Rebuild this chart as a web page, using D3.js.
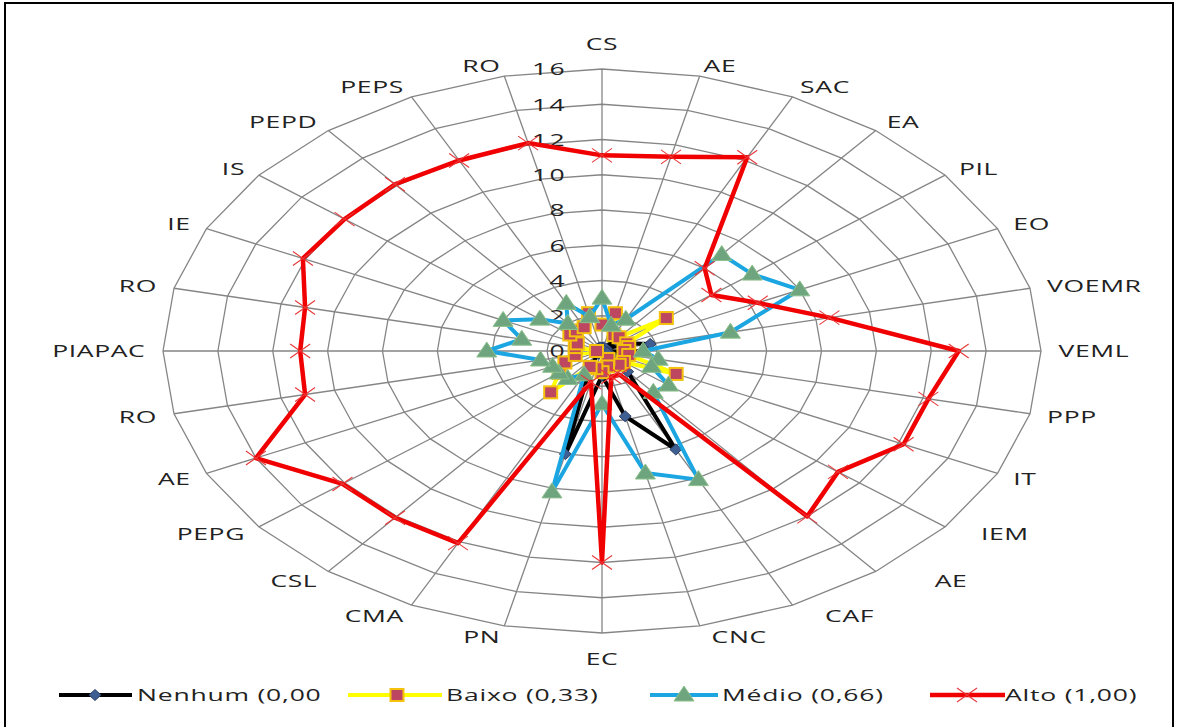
<!DOCTYPE html>
<html>
<head>
<meta charset="utf-8">
<script src="https://cdn.jsdelivr.net/npm/d3@7"></script>
<style>
  html, body { margin: 0; padding: 0; background: #fff; }
  svg { display: block; }
  text { font-family: "Open Sans", "Noto Sans", sans-serif; fill: #222; }
</style>
</head>
<body>
<svg id="chart" width="1185" height="727"></svg>
<script>
// Axis categories, clockwise from the top
const categories = ["CS","AE","SAC","EA","PIL","EO","VOEMR","VEML","PPP","IT","IEM","AE","CAF","CNC","EC","PN","CMA","CSL","PEPG","AE","RO","PIAPAC","RO","IE","IS","PEPD","PEPS","RO"];

// Radial tick labels
const tickValues = [0, 2, 4, 6, 8, 10, 12, 14, 16];

// Series values, one per category
const nenhum = [0.2, 0.2, 0.2, 0.8, 0.2, 1.0, 1.8, 1.5, 0.2, 0.2, 0.5, 1.5, 6.2, 3.8, 1.4, 6.0, 1.0, 0.2, 0.2, 0.2, 0.2, 0.2, 0.2, 0.2, 0.2, 0.2, 0.2, 0.2];
const baixo  = [1.5, 2.2, 1.0, 1.0, 3.0, 1.0, 1.0, 0.8, 1.0, 3.0, 1.0, 1.0, 0.5, 0.9, 1.2, 1.0, 1.0, 3.0, 2.0, 1.5, 1.0, 0.2, 1.0, 1.0, 1.5, 1.5, 1.5, 2.2];
const medio  = [3.0, 1.5, 2.0, 7.0, 7.0, 8.0, 4.8, 1.5, 2.1, 2.0, 3.1, 3.0, 8.1, 7.1, 3.0, 8.2, 1.5, 2.0, 2.0, 2.0, 2.3, 4.2, 3.0, 4.0, 2.9, 2.0, 3.0, 2.0];
const alto   = [11.1, 11.3, 12.2, 6.0, 5.1, 6.3, 8.5, 13.0, 12.2, 12.2, 11.0, 12.0, 1.5, 1.5, 12.0, 1.8, 12.1, 12.1, 12.1, 14.0, 11.1, 11.0, 11.1, 12.1, 12.0, 12.1, 12.0, 12.1];

const seriesNames = ["Nenhum (0,00", "Baixo (0,33)", "Médio (0,66)", "Alto (1,00)"];

const svg = d3.select("#chart");
const W = 1185, H = 727;

// The plot is stretched horizontally, so text is widened the same way
const stretch = 1.56;
const cx = 602, cy = 351, Rx = 439, Ry = 282;

const rScale = d3.scaleLinear().domain([0, 16]).range([0, 1]);
const aScale = d3.scaleLinear().domain([0, categories.length]).range([0, 2 * Math.PI]);

function pos(i, v) {
  const a = aScale(i), k = rScale(v);
  return [cx + Rx * k * Math.sin(a), cy - Ry * k * Math.cos(a)];
}

svg.append("rect").attr("width", W).attr("height", H).attr("fill", "#fff");
svg.append("rect").attr("x", 5).attr("y", 3).attr("width", 1168).attr("height", 760)
  .attr("fill", "none").attr("stroke", "#000").attr("stroke-width", 2);

const grid = svg.append("g");
const gridColor = "#858585";

// Polygonal rings
tickValues.filter(t => t > 0).forEach(t => {
  const pts = categories.map((c, i) => pos(i, t));
  grid.append("path")
    .attr("d", d3.line().curve(d3.curveLinearClosed)(pts))
    .attr("fill", "none").attr("stroke", gridColor).attr("stroke-width", 1.3);
});

// Spokes
categories.forEach((c, i) => {
  const [x, y] = pos(i, 16);
  grid.append("line").attr("x1", cx).attr("y1", cy).attr("x2", x).attr("y2", y)
    .attr("stroke", gridColor).attr("stroke-width", 1.3);
});

// Radial tick labels
tickValues.forEach(t => {
  const y = cy - Ry * rScale(t);
  svg.append("text")
    .attr("transform", `translate(${cx - 35},${y}) scale(${stretch},1)`)
    .attr("text-anchor", "end").attr("dominant-baseline", "central")
    .attr("font-size", 17).attr("letter-spacing", 1.5)
    .text(t);
});

// Category labels around the rim: side labels start/end just outside the
// rim, the top and bottom labels sit centred above/below it.
const labelK = 1.04;
// extra horizontal room for the crowded lower-right labels
const labelNudge = { 10: 22, 11: 48, 12: 25, 13: 8 };
categories.forEach((c, i) => {
  const a = aScale(i);
  const s = Math.sin(a), co = Math.cos(a);
  const px = cx + Rx * labelK * s + (labelNudge[i] || 0);
  let py = cy - Ry * labelK * co;
  let anchor = "middle";
  if (s > 0.05) anchor = "start";
  else if (s < -0.05) anchor = "end";
  else py -= Math.sign(co) * 14;
  svg.append("text")
    .attr("transform", `translate(${px},${py}) scale(${stretch},1)`)
    .attr("font-size", 17).attr("letter-spacing", 0.4)
    .attr("text-anchor", anchor).attr("dominant-baseline", "central")
    .text(c);
});

// Series styles
const styles = [
  { data: nenhum, color: "#000000", width: 4, marker: "diamond" },
  { data: baixo,  color: "#ffff00", width: 4, marker: "square" },
  { data: medio,  color: "#1ba6e2", width: 4, marker: "triangle" },
  { data: alto,   color: "#f00000", width: 4.5, marker: "cross" }
];

function drawMarker(g, type, x, y) {
  if (type === "diamond") {
    g.append("path").attr("d", `M${x},${y - 5.5}L${x + 6},${y}L${x},${y + 5.5}L${x - 6},${y}Z`)
      .attr("fill", "#3f5f93").attr("stroke", "#2b3f66").attr("stroke-width", 1);
  } else if (type === "square") {
    g.append("rect").attr("x", x - 6.5).attr("y", y - 6).attr("width", 13).attr("height", 12)
      .attr("fill", "#bd4760").attr("stroke", "#f4c20d").attr("stroke-width", 2);
  } else if (type === "triangle") {
    g.append("path").attr("d", `M${x},${y - 9}L${x + 10},${y + 6}L${x - 10},${y + 6}Z`)
      .attr("fill", "#6fa57e").attr("stroke", "#8cc08c").attr("stroke-width", 1);
  } else if (type === "cross") {
    g.append("path").attr("d", `M${x - 10},${y - 7}L${x + 10},${y + 7}M${x - 10},${y + 7}L${x + 10},${y - 7}`)
      .attr("fill", "none").attr("stroke", "#e8383a").attr("stroke-width", 1.1);
  }
}

const lineGen = d3.line().curve(d3.curveLinearClosed);
styles.forEach(st => {
  const g = svg.append("g");
  const pts = st.data.map((v, i) => pos(i, v));
  g.append("path").attr("d", lineGen(pts))
    .attr("fill", "none").attr("stroke", st.color).attr("stroke-width", st.width)
    .attr("stroke-linejoin", "round");
  pts.forEach(p => drawMarker(g, st.marker, p[0], p[1]));
});

// Legend
const legendY = 695;
const legendItems = [
  { x1: 59, x2: 132, mx: 95, tx: 137 },
  { x1: 348, x2: 442, mx: 397, tx: 446 },
  { x1: 650, x2: 718, mx: 684, tx: 722 },
  { x1: 930, x2: 1005, mx: 967, tx: 1005 }
];
legendItems.forEach((it, k) => {
  const g = svg.append("g");
  g.append("line").attr("x1", it.x1).attr("x2", it.x2).attr("y1", legendY).attr("y2", legendY)
    .attr("stroke", styles[k].color).attr("stroke-width", styles[k].width);
  drawMarker(g, styles[k].marker, it.mx, legendY);
  g.append("text")
    .attr("transform", `translate(${it.tx},${legendY}) scale(${stretch},1)`)
    .attr("dominant-baseline", "central").attr("font-size", 17).attr("letter-spacing", 0.5)
    .text(seriesNames[k]);
});
</script>
</body>
</html>
